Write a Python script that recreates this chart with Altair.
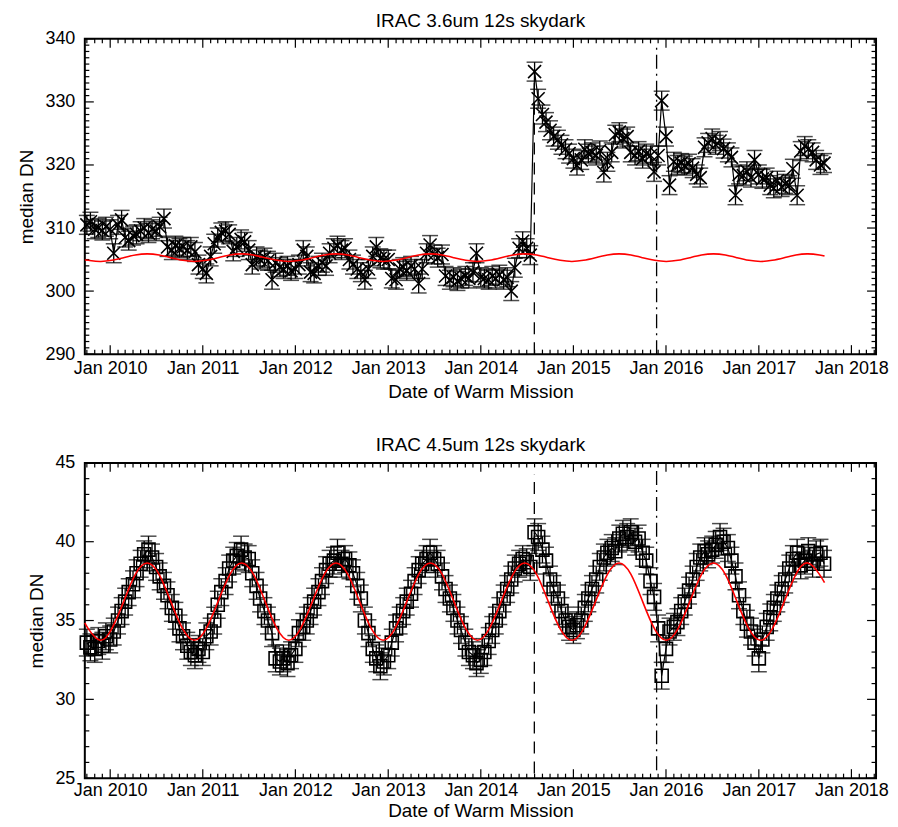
import altair as alt
import pandas as pd

# ---------------- data ----------------
# 3.6um median dark level, semi-monthly samples (1st and 15th of each month)
top_2009 = [310.5, 311.0, 309.8, 310.0, 309.6, 310.2]  # Oct..Dec
top_2010 = [309.8, 306.0, 310.5, 311.3, 308.5, 308.0, 308.8, 309.0, 309.5, 310.0, 309.2, 309.8,
            309.5, 310.2, 311.5, 307.0, 306.5, 307.2, 306.8, 307.0, 306.5, 307.0, 306.2, 304.2]
top_2011 = [303.5, 302.8, 305.5, 307.5, 308.5, 309.3, 309.5, 309.0, 306.3, 307.0, 308.2, 307.8,
            306.5, 304.2, 305.5, 305.0, 305.3, 304.8, 301.8, 304.5, 303.8, 303.5, 304.0, 303.2]
top_2012 = [303.5, 304.2, 306.5, 305.5, 303.0, 302.8, 304.0, 304.5, 304.0, 306.0, 306.8, 307.2,
            306.5, 306.8, 305.0, 304.2, 303.5, 303.0, 301.8, 303.5, 305.5, 307.0, 305.2, 305.0]
top_2013 = [305.0, 302.0, 301.8, 303.5, 303.8, 303.2, 304.0, 303.5, 301.2, 303.5, 306.0, 307.3,
            305.8, 305.3, 305.8, 302.4, 301.8, 302.2, 301.6, 302.0, 302.4, 302.0, 303.0, 306.0]
top_2014 = [302.2, 302.0, 301.8, 302.4, 302.0, 302.6, 301.8, 302.2, 300.0, 303.7, 306.8, 307.9,
            306.8, 305.7, 334.8, 330.5, 328.0, 326.8, 325.5, 324.5, 324.0, 323.2, 322.5, 321.8]
top_2015 = [321.0, 319.9, 320.8, 322.5, 321.8, 322.0, 321.5, 322.3, 318.8, 320.5, 322.0, 324.8,
            325.2, 324.2, 324.5, 322.0, 321.5, 322.2, 321.0, 321.8, 321.5, 318.9, 321.5, 330.2]
top_2016 = [324.5, 316.8, 320.5, 320.0, 320.3, 319.9, 320.2, 319.5, 318.5, 318.0, 322.8, 323.5,
            324.2, 323.2, 323.8, 322.6, 322.0, 321.2, 315.2, 318.5, 318.3, 319.0, 318.0, 320.8]
top_2017 = [318.5, 317.8, 318.0, 316.8, 316.3, 317.5, 316.5, 317.0, 316.8, 319.4, 315.2, 322.2,
            323.0, 322.5, 322.0, 320.8, 320.0, 320.3]  # Jan..Sep
top_err = 1.5

# 4.5um median dark level, same sampling
bot_2009 = [33.6, 33.3, 33.2, 33.7, 33.4, 34.0]
bot_2010 = [33.8, 34.3, 35.0, 35.6, 36.2, 36.8, 37.3, 38.0, 38.6, 39.2, 39.5, 39.0,
            38.4, 37.8, 37.2, 36.6, 35.8, 35.3, 34.5, 34.0, 33.4, 33.0, 32.8, 33.2]
bot_2011 = [33.0, 34.0, 34.3, 35.0, 36.0, 36.8, 37.5, 38.3, 38.8, 39.1, 39.5, 39.0,
            38.9, 38.0, 37.2, 36.4, 35.6, 35.0, 34.2, 32.6, 32.4, 32.6, 32.3, 32.8]
bot_2012 = [33.2, 34.2, 34.6, 35.0, 35.6, 36.2, 36.8, 37.5, 38.2, 38.6, 38.8, 39.3,
            38.6, 38.9, 38.5, 38.0, 37.2, 36.4, 35.0, 34.2, 33.2, 32.6, 32.1, 32.4]
bot_2013 = [32.8, 33.6, 34.5, 35.0, 35.6, 36.2, 36.7, 37.5, 38.2, 38.6, 38.9, 39.3,
            38.9, 38.6, 37.8, 37.0, 36.4, 35.8, 35.0, 34.4, 33.6, 33.0, 32.8, 32.3]
bot_2014 = [32.5, 33.0, 33.7, 34.4, 35.0, 35.6, 36.4, 37.0, 37.6, 38.3, 38.6, 38.9,
            38.7, 38.4, 40.6, 40.3, 39.5, 38.8, 37.6, 37.0, 36.4, 35.6, 35.0, 34.6]
bot_2015 = [34.4, 34.7, 35.0, 35.8, 36.4, 37.0, 37.6, 38.4, 39.0, 39.3, 39.6, 39.4,
            40.2, 40.5, 40.3, 40.6, 40.0, 40.2, 39.3, 38.8, 37.5, 36.5, 34.5, 31.5]
bot_2016 = [33.2, 34.3, 34.6, 34.9, 35.6, 36.2, 36.9, 37.6, 38.4, 39.0, 39.4, 39.2,
            39.5, 39.8, 40.3, 40.0, 39.6, 38.8, 37.8, 36.6, 35.6, 34.8, 34.3, 33.6]
bot_2017 = [32.6, 33.8, 34.6, 35.2, 35.8, 36.4, 37.0, 37.6, 38.3, 38.9, 39.3, 38.5,
            38.8, 39.4, 38.6, 39.2, 39.3, 38.6]
bot_err = 0.85

# red model curves
red_dates = ["2009-09-23", "2009-10-07", "2009-11-22",
             "2010-01-07", "2010-02-23", "2010-04-10", "2010-05-27", "2010-07-13", "2010-08-28", "2010-10-14", "2010-11-29",
             "2011-01-14", "2011-03-02", "2011-04-18", "2011-06-03", "2011-07-20", "2011-09-04", "2011-10-21", "2011-12-06",
             "2012-01-21", "2012-03-08", "2012-04-24", "2012-06-09", "2012-07-26", "2012-09-10", "2012-10-27", "2012-12-12",
             "2013-01-27", "2013-03-15", "2013-05-01", "2013-06-16", "2013-08-02", "2013-09-17", "2013-11-03", "2013-12-19",
             "2014-02-03", "2014-03-22", "2014-05-08", "2014-06-23", "2014-08-09", "2014-09-24", "2014-11-10", "2014-12-26",
             "2015-02-10", "2015-03-29", "2015-05-15", "2015-06-30", "2015-08-16", "2015-10-01", "2015-11-17", "2016-01-02",
             "2016-02-17", "2016-04-04", "2016-05-20", "2016-07-06", "2016-08-22", "2016-10-07", "2016-11-23", "2017-01-08",
             "2017-02-23", "2017-04-11", "2017-05-27", "2017-07-13", "2017-08-28", "2017-09-17"]
red_top = [304.92, 304.88, 304.7,
           304.88, 305.3, 305.72, 305.9, 305.72, 305.3, 304.88, 304.7,
           304.88, 305.3, 305.72, 305.9, 305.72, 305.3, 304.88, 304.7,
           304.88, 305.3, 305.72, 305.9, 305.72, 305.3, 304.88, 304.7,
           304.88, 305.3, 305.72, 305.9, 305.72, 305.3, 304.88, 304.7,
           304.88, 305.3, 305.72, 305.9, 305.72, 305.3, 304.88, 304.7,
           304.88, 305.3, 305.72, 305.9, 305.72, 305.3, 304.88, 304.7,
           304.88, 305.3, 305.72, 305.9, 305.72, 305.3, 304.88, 304.7,
           304.88, 305.3, 305.72, 305.9, 305.72, 305.55]
red_bot = [34.85, 34.47, 33.75,
           34.47, 36.2, 37.93, 38.65, 37.93, 36.2, 34.47, 33.75,
           34.47, 36.2, 37.93, 38.65, 37.93, 36.2, 34.47, 33.75,
           34.47, 36.2, 37.93, 38.65, 37.93, 36.2, 34.47, 33.75,
           34.47, 36.2, 37.93, 38.65, 37.93, 36.2, 34.47, 33.75,
           34.47, 36.2, 37.93, 38.65, 37.93, 36.2, 34.47, 33.75,
           34.47, 36.2, 37.93, 38.65, 37.93, 36.2, 34.47, 33.75,
           34.47, 36.2, 37.93, 38.65, 37.93, 36.2, 34.47, 33.75,
           34.47, 36.2, 37.93, 38.65, 37.93, 37.4]

# vertical event lines: date, bottom, top
vline_dates = ["2014-07-31", "2015-11-25"]
vline_top_lo, vline_top_hi = [290, 290], [335.0, 338.6]
vline_bot_lo, vline_bot_hi = [25.3, 25.5], [44.3, 44.5]

x_domain = ["2009-09-23", "2018-04-08"]
year_ticks = list(range(2010, 2019))
titles = ["IRAC 3.6um 12s skydark", "IRAC 4.5um 12s skydark"]

# ---------------- build tables ----------------
def semi_monthly(year, months):
    return [f"{year}-{m:02d}-{d:02d}" for m in months for d in (1, 15)]

dates = semi_monthly(2009, range(10, 13))
for yr in range(2010, 2017):
    dates += semi_monthly(yr, range(1, 13))
dates += semi_monthly(2017, range(1, 10))

top_vals = top_2009 + top_2010 + top_2011 + top_2012 + top_2013 + top_2014 + top_2015 + top_2016 + top_2017
bot_vals = bot_2009 + bot_2010 + bot_2011 + bot_2012 + bot_2013 + bot_2014 + bot_2015 + bot_2016 + bot_2017

top_df = pd.DataFrame({"date": dates, "v": top_vals})
top_df["lo"] = top_df["v"] - top_err
top_df["hi"] = top_df["v"] + top_err
bot_df = pd.DataFrame({"date": dates, "v": bot_vals})
bot_df["lo"] = bot_df["v"] - bot_err
bot_df["hi"] = bot_df["v"] + bot_err

red_top_df = pd.DataFrame({"date": red_dates, "v": red_top})
red_bot_df = pd.DataFrame({"date": red_dates, "v": red_bot})

major_x = pd.DataFrame({"d": [f"{y}-01-01" for y in year_ticks]})
minor_list = []
for y in range(2009, 2019):
    for m in range(2, 13):
        d = f"{y}-{m:02d}-01"
        if x_domain[0] <= d <= x_domain[1]:
            minor_list.append(d)
minor_x = pd.DataFrame({"d": minor_list})

FONT = "Liberation Sans"
W, H = 793, 316
MAJ, MIN = 9, 4.5


def panel(df, red_df, vlo, vhi, ydom, ystep, title, shape, lpad, tpad):
    xscale = alt.Scale(type="utc", domain=x_domain, nice=False)
    xaxis = alt.Axis(values=[alt.DateTime(year=y, month=1, date=1, utc=True) for y in year_ticks],
                     labelExpr="utcFormat(datum.value, '%b %Y')", tickSize=0, domain=False, grid=False,
                     labelFlush=False, labelOverlap=False, labelPadding=lpad, titlePadding=tpad)
    yscale = alt.Scale(domain=ydom, nice=False, zero=False)
    yaxis = alt.Axis(values=list(range(ydom[0], ydom[1] + 1, ystep)), tickSize=0, domain=False,
                     grid=False, labelPadding=10, titlePadding=8)

    def X(f):
        return alt.X(f, type="temporal", scale=xscale, axis=xaxis, title="Date of Warm Mission")

    def Y(f):
        return alt.Y(f, type="quantitative", scale=yscale, axis=yaxis, title="median DN")

    ymaj = pd.DataFrame({"v": list(range(ydom[0], ydom[1] + 1, ystep))})
    ymin = pd.DataFrame({"v": [v for v in range(ydom[0], ydom[1] + 1) if (v - ydom[0]) % ystep]})

    tk = dict(color="black", strokeWidth=1.2)
    layers = [
        alt.Chart(major_x).mark_rule(**tk).encode(x=X("d"), y=alt.value(H), y2=alt.value(H - MAJ)),
        alt.Chart(major_x).mark_rule(**tk).encode(x=X("d"), y=alt.value(0), y2=alt.value(MAJ)),
        alt.Chart(minor_x).mark_rule(**tk).encode(x=X("d"), y=alt.value(H), y2=alt.value(H - MIN)),
        alt.Chart(minor_x).mark_rule(**tk).encode(x=X("d"), y=alt.value(0), y2=alt.value(MIN)),
        alt.Chart(ymaj).mark_rule(**tk).encode(y=Y("v"), x=alt.value(0), x2=alt.value(MAJ)),
        alt.Chart(ymaj).mark_rule(**tk).encode(y=Y("v"), x=alt.value(W), x2=alt.value(W - MAJ)),
        alt.Chart(ymin).mark_rule(**tk).encode(y=Y("v"), x=alt.value(0), x2=alt.value(MIN)),
        alt.Chart(ymin).mark_rule(**tk).encode(y=Y("v"), x=alt.value(W), x2=alt.value(W - MIN)),
    ]
    vdf = pd.DataFrame({"d": vline_dates, "lo": vlo, "hi": vhi})
    layers.append(alt.Chart(vdf.iloc[[0]]).mark_rule(color="black", strokeWidth=1.3, strokeDash=[12, 8])
                  .encode(x=X("d"), y=Y("lo"), y2=alt.Y2("hi")))
    layers.append(alt.Chart(vdf.iloc[[1]]).mark_rule(color="black", strokeWidth=1.3, strokeDash=[14, 5, 2, 5])
                  .encode(x=X("d"), y=Y("lo"), y2=alt.Y2("hi")))
    base = alt.Chart(df)
    layers += [
        base.mark_line(color="black", strokeWidth=1.2).encode(x=X("date"), y=Y("v")),
        base.mark_rule(color="black", strokeWidth=1.3).encode(x=X("date"), y=Y("lo"), y2=alt.Y2("hi")),
        base.mark_tick(orient="horizontal", size=16, thickness=1.5, color="black").encode(x=X("date"), y=Y("hi")),
        base.mark_tick(orient="horizontal", size=16, thickness=1.5, color="black").encode(x=X("date"), y=Y("lo")),
        base.mark_point(shape=shape, size=170, filled=False, color="black", strokeWidth=1.6, opacity=1)
            .encode(x=X("date"), y=Y("v")),
        alt.Chart(red_df).mark_line(color="#ff0000", strokeWidth=1.6, interpolate="natural")
            .encode(x=X("date"), y=Y("v")),
        alt.Chart(pd.DataFrame({"t": [title]})).mark_text(
            font=FONT, fontSize=19, color="black", align="center", baseline="alphabetic"
        ).encode(text="t:N", x=alt.value(W / 2), y=alt.value(-12)),
    ]
    return alt.layer(*layers).properties(width=W, height=H)


top = panel(top_df, red_top_df, vline_top_lo, vline_top_hi, [290, 340], 10,
            titles[0], "M-1,-1L1,1M-1,1L1,-1", 5, 5)
bottom = panel(bot_df, red_bot_df, vline_bot_lo, vline_bot_hi, [25, 45], 5,
               titles[1], "square", 3, 2)

chart = alt.vconcat(top, bottom, spacing=33).configure(
    padding={"left": 8, "top": 2, "right": 0, "bottom": 0},
    background="white",
).configure_view(
    stroke="black", strokeWidth=2,
).configure_axis(
    labelFont=FONT, labelFontSize=18, labelColor="black",
    titleFont=FONT, titleFontSize=19, titleFontWeight="normal", titleColor="black",
)

chart.save("out.html", embed_options={"renderer": "svg", "actions": False})
